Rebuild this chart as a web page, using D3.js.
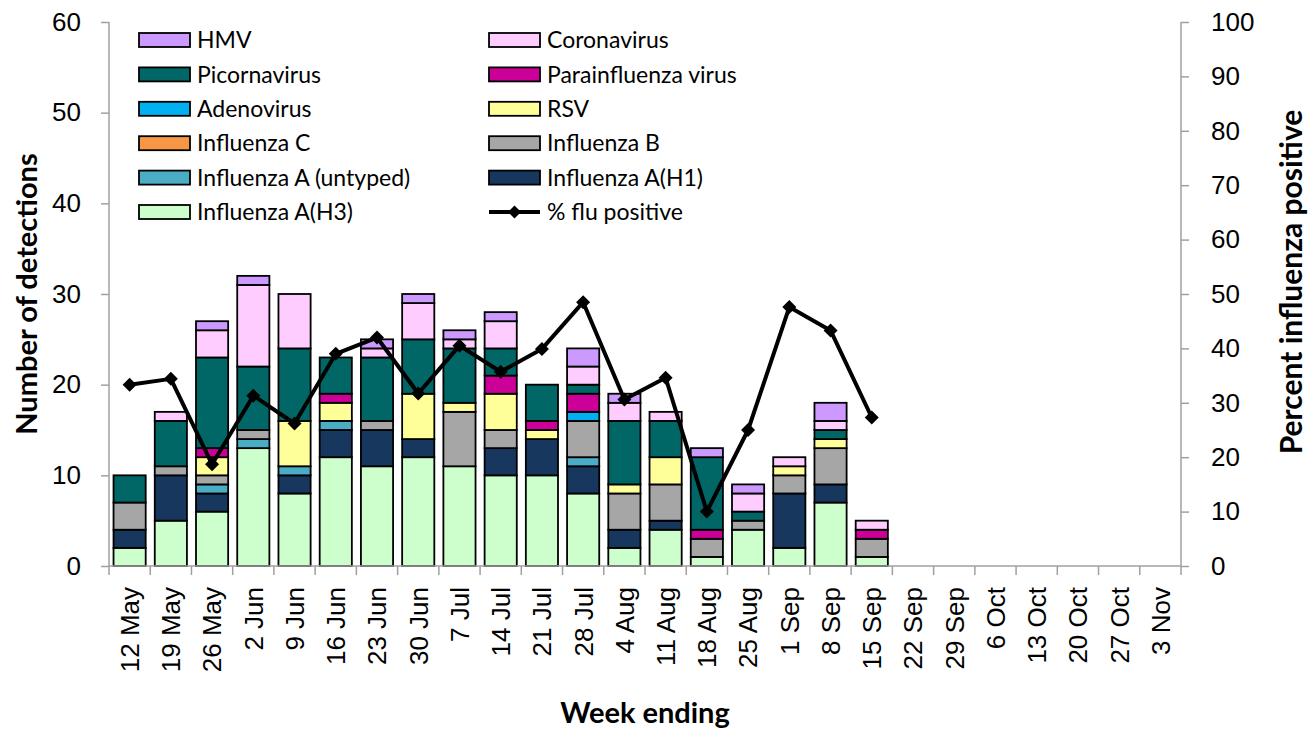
<!DOCTYPE html>
<html>
<head>
<meta charset="utf-8">
<script src="https://cdn.jsdelivr.net/npm/d3@7"></script>
<style>
body { margin: 0; background: #fff; }
svg { font-family: Lato, "Open Sans", sans-serif; }
</style>
</head>
<body>
<svg id="chart"></svg>
<script>
let weeks = ['12 May','19 May','26 May','2 Jun','9 Jun','16 Jun','23 Jun','30 Jun','7 Jul','14 Jul','21 Jul','28 Jul','4 Aug','11 Aug','18 Aug','25 Aug','1 Sep','8 Sep','15 Sep','22 Sep','29 Sep','6 Oct','13 Oct','20 Oct','27 Oct','3 Nov']

// detections per week (stacked bottom to top)
let h3       = [2,5,6,13,8,12,11,12,11,10,10,8,2,4,1,4,2,7,1]
let h1       = [2,5,2,0,2,3,4,2,0,3,4,3,2,1,0,0,6,2,0]
let untyped  = [0,0,1,1,1,1,0,0,0,0,0,1,0,0,0,0,0,0,0]
let fluC     = [0,0,0,0,0,0,0,0,0,0,0,0,0,0,0,0,0,0,0]
let fluB     = [3,1,1,1,0,0,1,0,6,2,0,4,4,4,2,1,2,4,2]
let rsv      = [0,0,2,0,5,2,0,5,1,4,1,0,1,3,0,0,1,1,0]
let adeno    = [0,0,0,0,0,0,0,0,0,0,0,1,0,0,0,0,0,0,0]
let para     = [0,0,1,0,0,1,0,0,0,2,1,2,0,0,1,0,0,0,1]
let picorna  = [3,5,10,7,8,4,7,6,6,3,4,1,7,4,8,1,0,1,0]
let corona   = [0,1,3,9,6,0,1,4,1,3,0,2,2,1,0,2,1,1,1]
let hmv      = [0,0,1,1,0,0,1,1,1,1,0,2,1,0,1,1,0,2,0]

let fluPct = [33.3,34.4,18.7,31.3,26.2,39.0,42.0,31.7,40.5,35.7,39.9,48.5,30.6,34.6,10.0,25.0,47.6,43.3,27.3]

let leftTicks = [0,10,20,30,40,50,60]
let rightTicks = [0,10,20,30,40,50,60,70,80,90,100]

let series = [
  {key: 'Influenza A(H3)', values: h3, color: '#CCFFCC'},
  {key: 'Influenza A(H1)', values: h1, color: '#17375E'},
  {key: 'Influenza A (untyped)', values: untyped, color: '#4BACC6'},
  {key: 'Influenza C', values: fluC, color: '#F79646'},
  {key: 'Influenza B', values: fluB, color: '#A6A6A6'},
  {key: 'RSV', values: rsv, color: '#FFFF99'},
  {key: 'Adenovirus', values: adeno, color: '#00B0F0'},
  {key: 'Parainfluenza virus', values: para, color: '#CC0099'},
  {key: 'Picornavirus', values: picorna, color: '#006666'},
  {key: 'Coronavirus', values: corona, color: '#FFCCFF'},
  {key: 'HMV', values: hmv, color: '#CC99FF'}
]

let w = 1315
let h = 729
let pLeft = 109, pRight = 1181, pTop = 22, pBottom = 566
let axisColor = '#A0A0A0'

let svg = d3.select('#chart').attr('width', w).attr('height', h)

let xScale = d3.scaleBand().domain(weeks).range([pLeft, pRight]).paddingInner(0.22).paddingOuter(0.11)
let yScale = d3.scaleLinear().domain([0, 60]).range([pBottom, pTop])
let yPct = d3.scaleLinear().domain([0, 100]).range([pBottom, pTop])

// build stack table
let table = weeks.map((wk, i) => {
  let row = {week: wk}
  series.forEach(s => { row[s.key] = s.values[i] || 0 })
  return row
})
let stacked = d3.stack().keys(series.map(s => s.key))(table)

stacked.forEach((layer, li) => {
  svg.append('g')
    .selectAll('rect')
    .data(layer.filter(d => d[1] - d[0] > 0))
    .enter()
    .append('rect')
    .attr('x', d => xScale(d.data.week))
    .attr('width', xScale.bandwidth())
    .attr('y', d => yScale(d[1]))
    .attr('height', d => yScale(d[0]) - yScale(d[1]))
    .attr('fill', series[li].color)
    .attr('stroke', '#000')
    .attr('stroke-width', 1.8)
})

// axes
let yAxisL = d3.axisLeft(yScale).tickValues(leftTicks).tickSize(8).tickPadding(20)
let gL = svg.append('g').attr('transform', 'translate(' + pLeft + ',0)').call(yAxisL)

let yAxisR = d3.axisRight(yPct).tickValues(rightTicks).tickSize(8).tickPadding(22)
let gR = svg.append('g').attr('transform', 'translate(' + pRight + ',0)').call(yAxisR)

let xAxis = d3.axisBottom(xScale).tickSize(0)
let gX = svg.append('g').attr('transform', 'translate(0,' + pBottom + ')').call(xAxis)
gX.selectAll('.tick text')
  .attr('x', -21).attr('y', 0)
  .attr('dy', '0.36em')
  .attr('text-anchor', 'end')
  .attr('transform', 'rotate(-90)')

// category boundary ticks
let bounds = d3.range(weeks.length + 1).map(i => pLeft + i * (pRight - pLeft) / weeks.length)
gX.selectAll('line.bound')
  .data(bounds)
  .enter()
  .append('line')
  .attr('class', 'bound')
  .attr('x1', d => d).attr('x2', d => d)
  .attr('y1', 0).attr('y2', 9)

;[gL, gR, gX].forEach(g => {
  g.selectAll('path.domain').attr('stroke', axisColor).attr('stroke-width', 1.5)
  g.selectAll('line').attr('stroke', axisColor).attr('stroke-width', 1.5)
  g.selectAll('text').attr('fill', '#000').style('font-size', '26px')
})
gX.selectAll('text').style('font-size', '26px')
gL.select('path.domain').attr('d', 'M0,' + pTop + 'V' + pBottom)
gR.select('path.domain').attr('d', 'M0,' + pTop + 'V' + pBottom)
gX.select('path.domain').attr('d', 'M' + pLeft + ',0H' + pRight)

// flu positive line
let line = d3.line()
  .x((d, i) => xScale(weeks[i]) + xScale.bandwidth() / 2)
  .y(d => yPct(d))

svg.append('path')
  .datum(fluPct)
  .attr('d', line)
  .attr('fill', 'none')
  .attr('stroke', '#000')
  .attr('stroke-width', 4)
  .attr('stroke-linejoin', 'round')

svg.selectAll('.diamond')
  .data(fluPct)
  .enter()
  .append('path')
  .attr('class', 'diamond')
  .attr('d', d3.symbol().type(d3.symbolDiamond2).size(125))
  .attr('transform', (d, i) => 'translate(' + (xScale(weeks[i]) + xScale.bandwidth() / 2) + ',' + yPct(d) + ')')
  .attr('fill', '#000')

// axis titles
svg.append('text')
  .attr('transform', 'translate(37,' + ((pTop + pBottom) / 2) + ') rotate(-90)')
  .attr('text-anchor', 'middle')
  .style('font-size', '29px').style('font-weight', 'bold')
  .text('Number of detections')

svg.append('text')
  .attr('transform', 'translate(1302,' + ((pTop + pBottom) / 2 - 12) + ') rotate(-90)')
  .attr('text-anchor', 'middle')
  .style('font-size', '30px').style('font-weight', 'bold')
  .text('Percent influenza positive')

svg.append('text')
  .attr('x', (pLeft + pRight) / 2).attr('y', 723)
  .attr('text-anchor', 'middle')
  .style('font-size', '29px').style('font-weight', 'bold')
  .text('Week ending')

// legend
let legendOrder = ['HMV','Coronavirus','Picornavirus','Parainfluenza virus','Adenovirus','RSV','Influenza C','Influenza B','Influenza A (untyped)','Influenza A(H1)','Influenza A(H3)','% flu positive']
let legend = svg.append('g')
legendOrder.forEach((name, i) => {
  let col = i % 2, row = Math.floor(i / 2)
  let x = col === 0 ? 139 : 489
  let y = 40 + row * 34.4
  let g = legend.append('g').attr('transform', 'translate(' + x + ',' + y + ')')
  let s = series.find(d => d.key === name)
  if (s) {
    g.append('rect').attr('x', 0).attr('y', -7).attr('width', 51).attr('height', 14)
      .attr('fill', s.color).attr('stroke', '#000').attr('stroke-width', 1.8)
  } else {
    g.append('line').attr('x1', 0).attr('x2', 51).attr('y1', 0).attr('y2', 0)
      .attr('stroke', '#000').attr('stroke-width', 4)
    g.append('path').attr('d', d3.symbol().type(d3.symbolDiamond2).size(110))
      .attr('transform', 'translate(25.5,0)').attr('fill', '#000')
  }
  g.append('text').attr('x', 58).attr('y', 0).attr('dy', '0.36em')
    .style('font-size', '23px').text(name)
})
</script>
</body>
</html>
